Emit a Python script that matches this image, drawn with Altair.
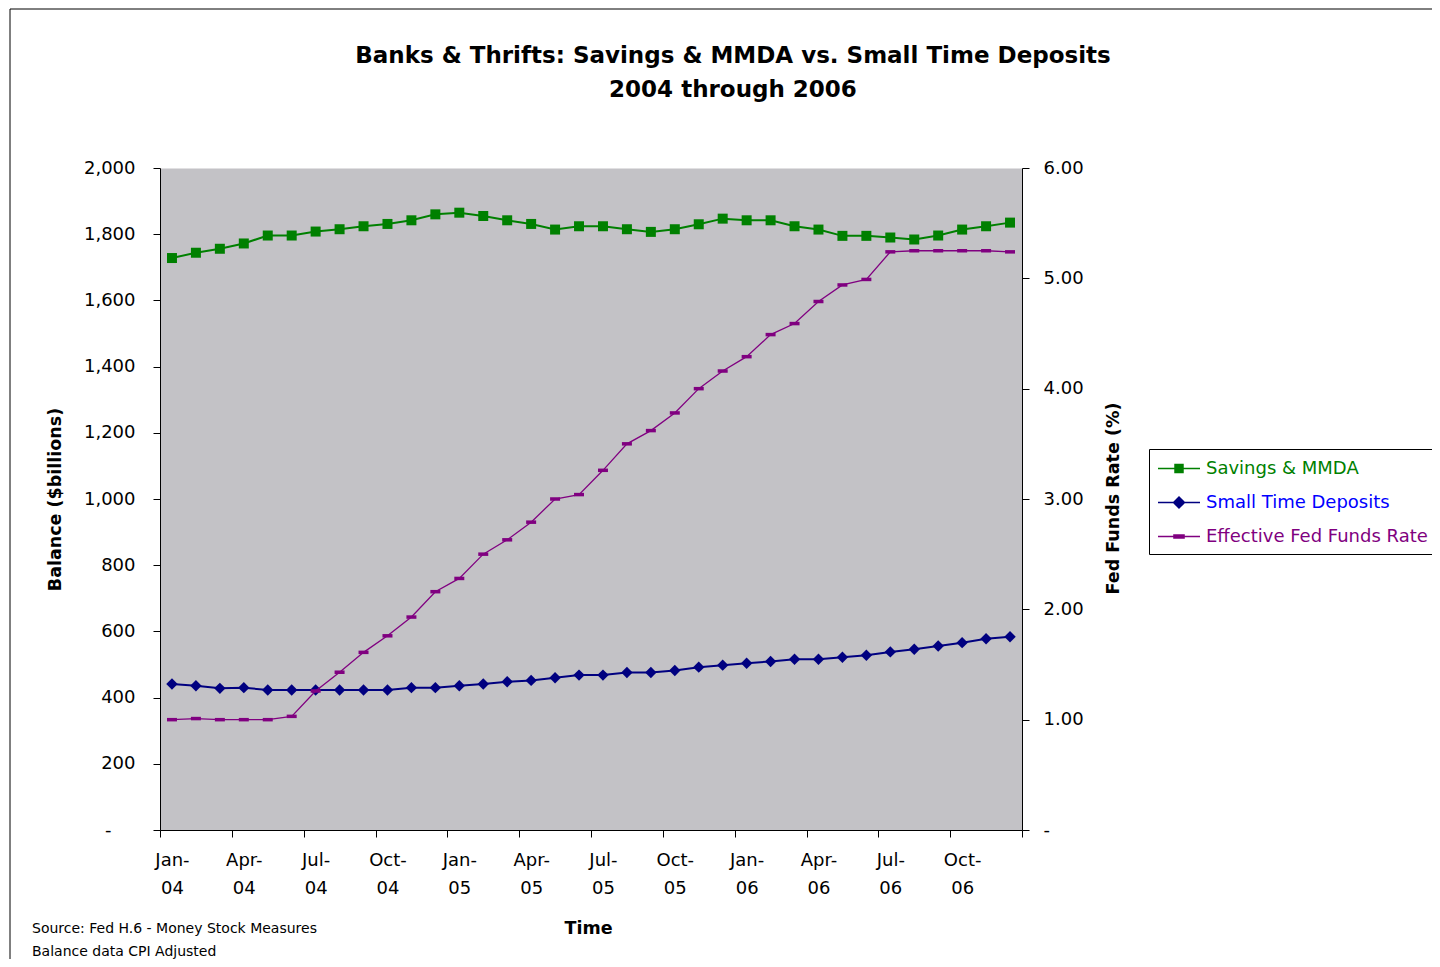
import altair as alt
import pandas as pd

# ---------------- data ----------------
MONTH_NAMES = ["Jan", "Feb", "Mar", "Apr", "May", "Jun",
               "Jul", "Aug", "Sep", "Oct", "Nov", "Dec"]
YEARS = ["04", "05", "06"]

SAVINGS = [1728, 1744, 1756, 1772, 1796, 1796, 1808, 1815, 1824, 1831, 1842, 1860,
           1865, 1855, 1842, 1831, 1814, 1824, 1824, 1815, 1807, 1815, 1830, 1847,
           1842, 1842, 1824, 1814, 1795, 1795, 1790, 1784, 1796, 1814, 1824, 1835]
SMALL_TIME = [441, 436, 428, 430, 423, 423, 423, 423, 423, 423, 430, 430,
              436, 441, 448, 452, 460, 468, 468, 476, 476, 482, 492, 498,
              504, 509, 516, 516, 522, 528, 538, 546, 556, 566, 578, 584]
FED_FUNDS = [1.00, 1.01, 1.00, 1.00, 1.00, 1.03, 1.26, 1.43, 1.61, 1.76, 1.93, 2.16,
             2.28, 2.50, 2.63, 2.79, 3.00, 3.04, 3.26, 3.50, 3.62, 3.78, 4.00, 4.16,
             4.29, 4.49, 4.59, 4.79, 4.94, 4.99, 5.24, 5.25, 5.25, 5.25, 5.25, 5.24]

SERIES = ["Savings & MMDA", "Small Time Deposits", "Effective Fed Funds Rate"]
SERIES_COLORS = ["#008000", "#000080", "#800080"]
LABEL_COLORS = ["#008000", "#0000FF", "#800080"]

TITLE_LINES = ["Banks & Thrifts: Savings & MMDA vs. Small Time Deposits",
               "2004 through 2006"]
FOOTNOTE = ["Source: Fed H.6 - Money Stock Measures", "Balance data CPI Adjusted"]
LEFT_TITLE = "Balance ($billions)"
RIGHT_TITLE = "Fed Funds Rate (%)"
X_TITLE = "Time"

FONT = "DejaVu Sans"
PLOT_BG = "#C3C2C6"

months = [f"{m}-{y}" for y in YEARS for m in MONTH_NAMES]
df = pd.DataFrame({
    "idx": list(range(len(months))),
    "month": months,
    "savings": SAVINGS,
    "small_time": SMALL_TIME,
    "fed_funds": FED_FUNDS,
})
n = len(months)

# ---------------- x axis ----------------
boundaries = [i - 0.5 for i in range(0, n + 1, 3)]
label_pos = list(range(0, n, 3))
q_names = "[" + ",".join(f"'{m}-'" for m in MONTH_NAMES[::3]) + "]"
y_names = "[" + ",".join(f"'{y}'" for y in YEARS) + "]"
x_label_expr = (f"datum.value % 3 == 0 ? [{q_names}[(datum.value / 3) % 4], "
                f"{y_names}[floor(datum.value / 12)]] : ''")

x_enc = alt.X(
    "idx:Q",
    scale=alt.Scale(domain=[-0.5, n - 0.5], nice=False, zero=False),
    axis=alt.Axis(
        values=boundaries + label_pos,
        grid=False,
        tickSize=7,
        tickOpacity={"condition": {"test": "datum.value % 1 == 0", "value": 0}, "value": 1},
        labelExpr=x_label_expr,
        labelFontSize=18,
        labelLineHeight=28,
        labelPadding=14,
        labelBaseline="top",
        labelOverlap=False,
        labelBound=False,
        labelFlush=False,
        title=X_TITLE,
        titleFontSize=17.5,
        titleFontWeight="bold",
        titleX=428,
        titleY=98,
        titleAlign="center",
        titleBaseline="middle",
    ),
)

left_axis = alt.Axis(
    orient="left",
    values=list(range(0, 2001, 200)),
    labelExpr="datum.value == 0 ? '-' : format(datum.value, ',')",
    grid=False,
    tickSize=7,
    labelPadding={"condition": {"test": "datum.value == 0", "value": 42}, "value": 18},
    labelFontSize=18,
    title=LEFT_TITLE,
    titleFontSize=17.5,
    titleFontWeight="bold",
    titleAngle=270,
    titleX=-105,
    titleY=331,
    titleAlign="center",
    titleBaseline="middle",
)
right_axis = alt.Axis(
    orient="right",
    values=[0, 1, 2, 3, 4, 5, 6],
    labelExpr="datum.value == 0 ? '-' : format(datum.value, '.2f')",
    grid=False,
    tickSize=7,
    labelPadding=14,
    labelFontSize=18,
    title=RIGHT_TITLE,
    titleFontSize=17.5,
    titleFontWeight="bold",
    titleAngle=270,
    titleX=91,
    titleY=330,
    titleAlign="center",
    titleBaseline="middle",
)

base = alt.Chart(df)

savings_layer = base.mark_line(
    color=SERIES_COLORS[0], strokeWidth=2,
    point=alt.OverlayMarkDef(shape="square", size=100, filled=True,
                             color=SERIES_COLORS[0], opacity=1),
).encode(
    x=x_enc,
    y=alt.Y("savings:Q", scale=alt.Scale(domain=[0, 2000], nice=False), axis=left_axis),
)

std_layer = base.mark_line(
    color=SERIES_COLORS[1], strokeWidth=2,
    point=alt.OverlayMarkDef(shape="diamond", size=130, filled=True,
                             color=SERIES_COLORS[1], opacity=1),
).encode(
    x=x_enc,
    y=alt.Y("small_time:Q", scale=alt.Scale(domain=[0, 2000], nice=False), axis=None),
)

effr_layer = base.mark_line(
    color=SERIES_COLORS[2], strokeWidth=1.3,
    point=alt.OverlayMarkDef(shape="M-1,-0.35H1V0.35H-1Z", size=100, filled=True,
                             color=SERIES_COLORS[2], opacity=1),
).encode(
    x=x_enc,
    y=alt.Y("fed_funds:Q", scale=alt.Scale(domain=[0, 6], nice=False), axis=right_axis),
)

# ---------------- legend (line + marker symbols) ----------------
LINE = "M-1,0H3 "
LEGEND_SHAPES = [
    LINE + "M0.62,-0.38H1.38V0.38H0.62Z",
    LINE + "M0.48,0L1,-0.52L1.52,0L1,0.52Z",
    LINE + "M0.52,-0.15H1.48V0.15H0.52Z",
]
label_color_expr = (f"datum.label == '{SERIES[0]}' ? '{LABEL_COLORS[0]}' : "
                    f"datum.label == '{SERIES[1]}' ? '{LABEL_COLORS[1]}' : '{LABEL_COLORS[2]}'")

legend = alt.Legend(
    title=None,
    orient="none",
    legendX=989,
    legendY=281,
    direction="vertical",
    fillColor="white",
    strokeColor="black",
    padding=8,
    rowPadding=13,
    symbolSize=441,
    symbolStrokeWidth=1.5,
    labelFont=FONT,
    labelFontSize=18,
    labelOffset=26,
    labelLimit=400,
    labelColor={"expr": label_color_expr},
)

legend_df = pd.DataFrame({"series": SERIES})
legend_layer = alt.Chart(legend_df).mark_point(
    filled=True, size=441, strokeWidth=1.5, opacity=1
).encode(
    color=alt.Color("series:N", scale=alt.Scale(domain=SERIES, range=SERIES_COLORS), legend=legend),
    stroke=alt.Stroke("series:N", scale=alt.Scale(domain=SERIES, range=SERIES_COLORS), legend=legend),
    shape=alt.Shape("series:N", scale=alt.Scale(domain=SERIES, range=LEGEND_SHAPES), legend=legend),
).transform_filter("false")

# ---------------- footnote & chart-area border ----------------
one_row = pd.DataFrame({"k": [0]})
footnote_layer = alt.Chart(one_row).mark_text(
    text=FOOTNOTE, font=FONT, fontSize=14, align="left", baseline="top",
    lineHeight=23, color="black",
).encode(x=alt.value(-128), y=alt.value(754))

border_left = alt.Chart(one_row).mark_rule(color="black", strokeWidth=1).encode(
    x=alt.value(-150), y=alt.value(-159), y2=alt.value(791)
)
border_top = alt.Chart(one_row).mark_rule(color="black", strokeWidth=1).encode(
    x=alt.value(-150), x2=alt.value(1272), y=alt.value(-159)
)

chart = alt.layer(
    border_left, border_top, footnote_layer,
    savings_layer, std_layer, effr_layer, legend_layer
).resolve_scale(
    y="independent"
).properties(
    width=862,
    height=662,
    padding={"left": 152, "top": 160, "right": 410, "bottom": 129},
    autosize=alt.AutoSizeParams(type="none"),
    background="white",
    view=alt.ViewBackground(fill=PLOT_BG, stroke="transparent"),
    title=alt.TitleParams(
        text=TITLE_LINES, font=FONT, fontSize=23, fontWeight="bold",
        anchor="middle", frame="group", dx=142, offset=0, dy=116, lineHeight=34,
        baseline="bottom", color="black",
    ),
).configure_view(
    fill=PLOT_BG, stroke="transparent"
).configure_axis(
    domainColor="black", tickColor="black", labelColor="black", titleColor="black",
    labelFont=FONT, titleFont=FONT, domainWidth=1, tickWidth=1,
)

chart.save("out.html", embed_options={"renderer": "svg", "actions": False})
